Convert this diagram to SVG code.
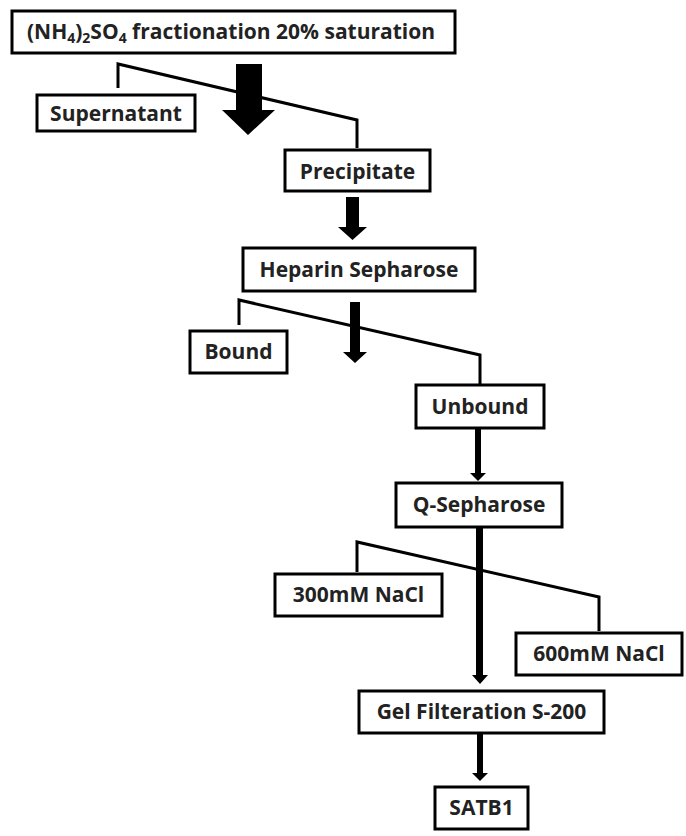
<svg xmlns="http://www.w3.org/2000/svg" width="686" height="836" viewBox="0 0 686 836">
<style>
.box{fill:#fff;stroke:#000;stroke-width:3}
.t{font-family:"Open Sans","DejaVu Sans",sans-serif;font-weight:bold;font-size:21px;fill:#222;text-anchor:middle}
.br{fill:none;stroke:#000;stroke-width:3;stroke-linejoin:miter}
.ar{fill:#000;stroke:none}
</style>
<rect width="686" height="836" fill="#fff"/>
<g id="connectors">
<polygon class="ar" points="236,64 262,64 262,110 275,110 248,135 222,110 236,110"/>
<path class="br" d="M118,88 V64 L357,120 V148"/>
<polygon class="ar" points="346,197 359,197 359,227 367,227 352.5,240 338,227 346,227"/>
<polygon class="ar" points="350,302 360,302 360,352 367,352 355,363 343,352 350,352"/>
<path class="br" d="M239,325 V300 L480,355 V385"/>
<polygon class="ar" points="475,428 481,428 481,473 486,473 478,481 470,473 475,473"/>
<polygon class="ar" points="476,527 483,527 483,675 488,675 480,684 472,675 476,675"/>
<path class="br" d="M357,572 V542 L599,597 V631"/>
<polygon class="ar" points="477,733 483,733 483,773 488,773 480,781 472,773 477,773"/>
</g>
<g id="n-ammonium">
<rect class="box" x="12" y="11" width="443" height="42"/>
<text class="t" x="231" y="39">(NH<tspan font-size="14" dy="4">4</tspan><tspan dy="-4">)</tspan><tspan font-size="14" dy="4">2</tspan><tspan dy="-4">SO</tspan><tspan font-size="14" dy="4">4</tspan><tspan dy="-4"> fractionation 20% saturation</tspan></text>
</g>
<g id="n-supernatant">
<rect class="box" x="37" y="95" width="158" height="36"/>
<text class="t" x="116" y="121">Supernatant</text>
</g>
<g id="n-precipitate">
<rect class="box" x="285" y="150" width="145" height="41"/>
<text class="t" x="357.5" y="179">Precipitate</text>
</g>
<g id="n-heparin">
<rect class="box" x="243" y="248" width="232" height="43"/>
<text class="t" x="359" y="277">Heparin Sepharose</text>
</g>
<g id="n-bound">
<rect class="box" x="190" y="331" width="97" height="42"/>
<text class="t" x="238.5" y="359">Bound</text>
</g>
<g id="n-unbound">
<rect class="box" x="416" y="385" width="128" height="43"/>
<text class="t" x="480" y="414">Unbound</text>
</g>
<g id="n-qsepharose">
<rect class="box" x="396" y="483" width="166" height="44"/>
<text class="t" x="479" y="512">Q-Sepharose</text>
</g>
<g id="n-300">
<rect class="box" x="275" y="574" width="167" height="42"/>
<text class="t" x="358.5" y="602">300mM NaCl</text>
</g>
<g id="n-600">
<rect class="box" x="516" y="633" width="166" height="42"/>
<text class="t" x="599" y="661">600mM NaCl</text>
</g>
<g id="n-gel">
<rect class="box" x="359" y="691" width="245" height="42"/>
<text class="t" x="481.5" y="719">Gel Filteration S-200</text>
</g>
<g id="n-satb1">
<rect class="box" x="435" y="787" width="93" height="42"/>
<text class="t" x="481.5" y="815">SATB1</text>
</g>
</svg>
